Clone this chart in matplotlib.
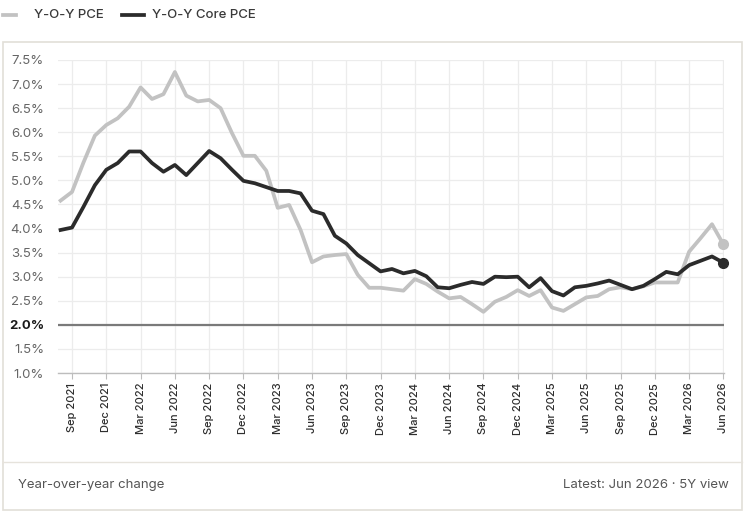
import numpy as np
import matplotlib
matplotlib.use('Agg')
import matplotlib.pyplot as plt
from matplotlib.lines import Line2D
from matplotlib.patches import Rectangle

# ------------------------------------------------------------
# data: monthly y-o-y change, Aug 2021 .. Jun 2026
# ------------------------------------------------------------
months = ["Aug 2021", "Sep 2021", "Oct 2021", "Nov 2021", "Dec 2021",
          "Jan 2022", "Feb 2022", "Mar 2022", "Apr 2022", "May 2022", "Jun 2022",
          "Jul 2022", "Aug 2022", "Sep 2022", "Oct 2022", "Nov 2022", "Dec 2022",
          "Jan 2023", "Feb 2023", "Mar 2023", "Apr 2023", "May 2023", "Jun 2023",
          "Jul 2023", "Aug 2023", "Sep 2023", "Oct 2023", "Nov 2023", "Dec 2023",
          "Jan 2024", "Feb 2024", "Mar 2024", "Apr 2024", "May 2024", "Jun 2024",
          "Jul 2024", "Aug 2024", "Sep 2024", "Oct 2024", "Nov 2024", "Dec 2024",
          "Jan 2025", "Feb 2025", "Mar 2025", "Apr 2025", "May 2025", "Jun 2025",
          "Jul 2025", "Aug 2025", "Sep 2025", "Oct 2025", "Nov 2025", "Dec 2025",
          "Jan 2026", "Feb 2026", "Mar 2026", "Apr 2026", "May 2026", "Jun 2026"]

pce = [4.58, 4.76, 5.37, 5.93, 6.15, 6.29, 6.53, 6.93, 6.69, 6.79, 7.25,
       6.76, 6.64, 6.67, 6.50, 5.98, 5.51, 5.51, 5.20, 4.43, 4.49, 3.97,
       3.30, 3.42, 3.45, 3.47, 3.04, 2.77, 2.77, 2.74, 2.71, 2.95, 2.85,
       2.69, 2.55, 2.58, 2.43, 2.27, 2.48, 2.58, 2.72, 2.60, 2.72, 2.36,
       2.29, 2.43, 2.57, 2.60, 2.74, 2.78, 2.74, 2.80, 2.88, 2.88, 2.88,
       3.52, 3.80, 4.09, 3.67]

core = [3.97, 4.02, 4.45, 4.90, 5.22, 5.36, 5.60, 5.60, 5.36, 5.18, 5.32,
        5.11, 5.36, 5.61, 5.46, 5.22, 4.99, 4.94, 4.86, 4.78, 4.78, 4.73,
        4.37, 4.30, 3.85, 3.69, 3.45, 3.28, 3.11, 3.16, 3.07, 3.12, 3.01,
        2.78, 2.76, 2.83, 2.89, 2.85, 3.00, 2.99, 3.00, 2.78, 2.97, 2.70,
        2.61, 2.78, 2.81, 2.86, 2.92, 2.83, 2.74, 2.81, 2.95, 3.10, 3.05,
        3.24, 3.33, 3.42, 3.29]

yticks = [1.0, 1.5, 2.0, 2.5, 3.0, 3.5, 4.0, 4.5, 5.0, 5.5, 6.0, 6.5, 7.0, 7.5]
target = 2.0

PCE_C = '#c2c2c2'
CORE_C = '#2b2b2b'

plt.rcParams['font.family'] = ['Inter', 'DejaVu Sans']

fig = plt.figure(figsize=(7.46, 5.14), dpi=100)

# panel frame + footer separator
fig.patches.append(Rectangle((0.004, 0.008), 0.991, 0.910, transform=fig.transFigure,
                             fill=False, edgecolor='#e2dfd8', linewidth=1.2))
fig.add_artist(Line2D([0.004, 0.995], [0.101, 0.101], transform=fig.transFigure,
                      color='#e6e3dc', linewidth=1.0))

ax = fig.add_axes([0.0777, 0.2743, 0.8928, 0.609])
x = np.arange(len(months))

ax.plot(x, pce, color=PCE_C, lw=2.7, solid_joinstyle='round', zorder=3)
ax.plot(x, core, color=CORE_C, lw=2.7, solid_joinstyle='round', zorder=4)
ax.plot(x[-1], pce[-1], 'o', color=PCE_C, ms=7, zorder=5, clip_on=False)
ax.plot(x[-1], core[-1], 'o', color=CORE_C, ms=7, zorder=5, clip_on=False)
ax.axhline(target, color='#7a7a7a', lw=1.6, zorder=2)

ax.set_xlim(-0.23, 58.05)
ax.set_ylim(1.0, 7.5)

tick_idx = list(range(1, len(months), 3))
ax.set_xticks(tick_idx)
ax.set_xticklabels([months[i] for i in tick_idx], rotation=90, fontsize=8,
                   color='#2e2e2e', fontweight='medium')
ax.set_yticks(yticks)
ax.set_yticklabels([f'{v:.1f}%' for v in yticks], fontsize=9.5, color='#666666')
for lab, v in zip(ax.get_yticklabels(), yticks):
    if v == target:
        lab.set_color('#1a1a1a')
        lab.set_fontweight('bold')

ax.grid(True, color='#ececec', lw=0.9, zorder=0)
for s in ['top', 'right', 'left']:
    ax.spines[s].set_visible(False)
ax.spines['bottom'].set_color('#bdbdbd')
ax.spines['bottom'].set_linewidth(1.0)
ax.tick_params(axis='y', length=0, pad=10)
ax.tick_params(axis='x', length=4, color='#bdbdbd', pad=3)

# legend (custom, above panel)
ly = 0.971
fig.add_artist(Line2D([0.004, 0.021], [ly, ly], transform=fig.transFigure, color=PCE_C, lw=2.7))
fig.text(0.046, ly, 'Y-O-Y PCE', fontsize=9.5, color='#3a3a3a', va='center',
         fontweight='medium')
fig.add_artist(Line2D([0.164, 0.193], [ly, ly], transform=fig.transFigure, color=CORE_C, lw=2.7))
fig.text(0.204, ly, 'Y-O-Y Core PCE', fontsize=9.5, color='#3a3a3a', va='center',
         fontweight='medium')

# footer
fig.text(0.024, 0.056, 'Year-over-year change', fontsize=9.5, color='#555555', va='center')
fig.text(0.977, 0.056, 'Latest: Jun 2026 · 5Y view', fontsize=9.5, color='#555555',
         va='center', ha='right')

fig.savefig('out.png', dpi=100)
